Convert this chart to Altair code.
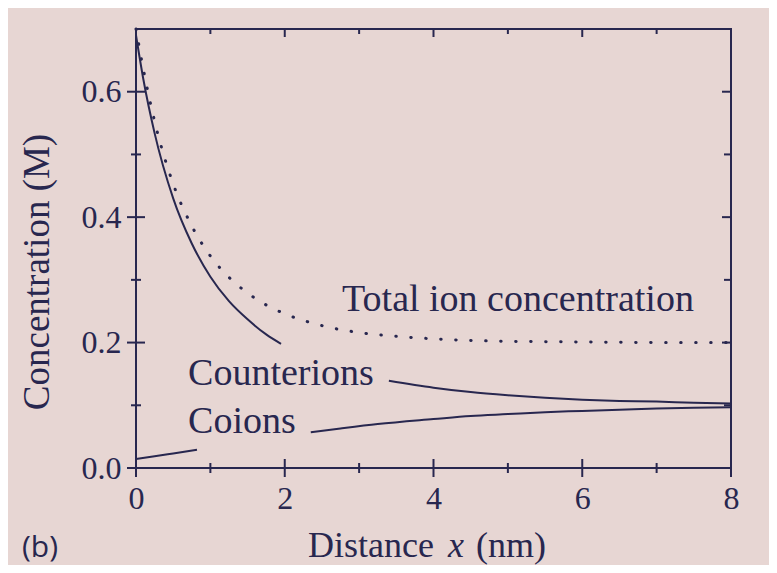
import altair as alt
import pandas as pd

# ---- data ----
counter_x1 = [0, 0.1, 0.25, 0.5, 0.75, 1.0, 1.25, 1.5, 1.75, 1.95]
counter_y1 = [0.690, 0.619, 0.534, 0.430, 0.358, 0.305, 0.266, 0.237, 0.213, 0.198]
counter_x2 = [3.4, 4.0, 4.5, 5.0, 5.5, 6.0, 6.5, 7.0, 7.5, 8.0]
counter_y2 = [0.139, 0.128, 0.121, 0.116, 0.112, 0.109, 0.107, 0.106, 0.104, 0.103]
coion_x1 = [0, 0.25, 0.5, 0.82]
coion_y1 = [0.0145, 0.0187, 0.0232, 0.029]
coion_x2 = [2.35, 2.75, 3.25, 4.0, 4.5, 5.0, 5.5, 6.0, 6.5, 7.0, 7.5, 8.0]
coion_y2 = [0.057, 0.063, 0.070, 0.078, 0.083, 0.086, 0.089, 0.091, 0.093, 0.095, 0.096, 0.097]
total_x = [0, 0.1, 0.25, 0.5, 0.75, 1.0, 1.25, 1.5, 1.75, 2.0, 2.5, 3.0, 3.5, 4.0, 5.0, 6.0, 7.0, 8.0]
total_y = [0.700, 0.635, 0.553, 0.453, 0.386, 0.338, 0.304, 0.279, 0.260, 0.246, 0.227, 0.216, 0.210, 0.206, 0.202, 0.201, 0.200, 0.200]

label_text = ["Total ion concentration", "Counterions", "Coions"]
label_x = [2.77, 0.70, 0.70]
label_y = [0.250, 0.133, 0.056]

x_major = [0, 2, 4, 6, 8]
x_minor = [1, 3, 5, 7]
y_major = [0.0, 0.2, 0.4, 0.6]
y_minor = [0.1, 0.3, 0.5]

INK = "#28274f"
BG = "#e7d6d3"
SERIF = "Liberation Serif"
W, H = 595, 439

rows = []
for xs_, ys_, seg in [(counter_x1, counter_y1, "c1"), (counter_x2, counter_y2, "c2"),
                      (coion_x1, coion_y1, "o1"), (coion_x2, coion_y2, "o2")]:
    for a, b in zip(xs_, ys_):
        rows.append({"x": a, "y": b, "seg": seg})
solid = pd.DataFrame(rows)
total = pd.DataFrame({"x": total_x, "y": total_y})
labels = pd.DataFrame({"t": label_text, "x": label_x, "y": label_y})
xmaj = pd.DataFrame({"x": x_major})
xmin = pd.DataFrame({"x": x_minor})
ymaj = pd.DataFrame({"y": y_major})
ymin = pd.DataFrame({"y": y_minor})

xs = alt.Scale(domain=[0, 8], nice=False)
ys = alt.Scale(domain=[0, 0.7], nice=False)

XAX = alt.Axis(values=x_major, format="d", title=None, domain=False, ticks=False, tickSize=0,
               grid=False, labelFont=SERIF, labelFontSize=32, labelColor=INK, labelPadding=15,
               labelFlush=False, labelOverlap=False)
YAX = alt.Axis(values=y_major, format=".1f", title=None, domain=False, ticks=False, tickSize=0,
               grid=False, labelFont=SERIF, labelFontSize=32, labelColor=INK, labelPadding=15,
               labelFlush=False, labelOverlap=False)

def X():
    return alt.X("x:Q", scale=xs, axis=XAX)

def Y():
    return alt.Y("y:Q", scale=ys, axis=YAX)

lines = alt.Chart(solid).mark_line(color=INK, strokeWidth=2, interpolate="monotone").encode(
    x=X(), y=Y(), detail="seg:N")

dotted = alt.Chart(total).mark_line(color=INK, strokeWidth=3, strokeDash=[0.5, 14.5],
                                    strokeCap="round", interpolate="monotone").encode(
    x=X(), y=Y())

texts = alt.Chart(labels).mark_text(font=SERIF, fontSize=38, color=INK, align="left",
                                    baseline="alphabetic").encode(
    x=X(), y=Y(), text="t:N")

def vrule(df, y1, y2):
    return alt.Chart(df).mark_rule(color=INK, strokeWidth=2).encode(
        x=X(), y=alt.value(y1), y2=alt.value(y2))

def hrule(df, x1, x2):
    return alt.Chart(df).mark_rule(color=INK, strokeWidth=2).encode(
        y=Y(), x=alt.value(x1), x2=alt.value(x2))

ticks = [
    vrule(xmaj, H - 9, H + 9), vrule(xmin, H - 5, H + 5),
    vrule(xmaj, 0, 8), vrule(xmin, 0, 5),
    hrule(ymaj, -9, 9), hrule(ymin, -5, 5),
    hrule(ymaj, W - 9, W), hrule(ymin, W - 7, W),
]

one = pd.DataFrame({"a": [0]})
ytitle = alt.Chart(one).mark_text(text="Concentration (M)", font=SERIF, fontSize=37,
                                  color=INK, angle=270, align="center", baseline="middle").encode(
    x=alt.value(-98), y=alt.value(243))
xt1 = alt.Chart(one).mark_text(text="Distance", font=SERIF, fontSize=36, color=INK,
                               align="left", baseline="alphabetic").encode(
    x=alt.value(172), y=alt.value(528))
xt2 = alt.Chart(one).mark_text(text="x", font=SERIF, fontSize=36, fontStyle="italic", color=INK,
                               align="left", baseline="alphabetic").encode(
    x=alt.value(312), y=alt.value(528))
xt3 = alt.Chart(one).mark_text(text="(nm)", font=SERIF, fontSize=36, color=INK,
                               align="left", baseline="alphabetic").encode(
    x=alt.value(340), y=alt.value(528))
panel = alt.Chart(one).mark_text(text="(b)", font="Open Sans", fontSize=30, color=INK,
                                 align="left", baseline="alphabetic").encode(
    x=alt.value(-114), y=alt.value(528))

chart = alt.layer(lines, dotted, texts, *ticks, ytitle, xt1, xt2, xt3, panel).properties(
    width=W, height=H,
    autosize=alt.AutoSizeParams(type="none"),
    padding={"left": 128, "top": 21, "right": 38, "bottom": 97},
    background=BG,
).configure_view(stroke=INK, strokeWidth=2).configure_axis(
    labelFont=SERIF, labelFontSize=32, labelColor=INK)

chart.save("out.html", embed_options={"renderer": "svg", "actions": False})
